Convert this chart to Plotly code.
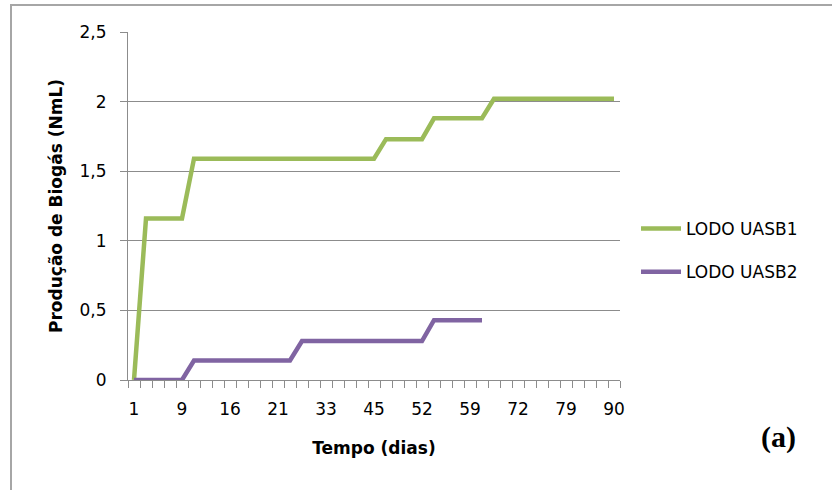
import plotly.graph_objects as go

# Tick labels shown on the category axis (every 4th category of 41)
day_labels = ["1", "9", "16", "21", "33", "45", "52", "59", "72", "79", "90"]
n_categories = 41

uasb1 = [0, 1.16, 1.16, 1.16, 1.16,
         1.59, 1.59, 1.59, 1.59, 1.59, 1.59, 1.59, 1.59, 1.59, 1.59, 1.59, 1.59, 1.59, 1.59, 1.59, 1.59,
         1.73, 1.73, 1.73, 1.73,
         1.88, 1.88, 1.88, 1.88, 1.88,
         2.02, 2.02, 2.02, 2.02, 2.02, 2.02, 2.02, 2.02, 2.02, 2.02, 2.02]
uasb2 = [0, 0, 0, 0, 0,
         0.14, 0.14, 0.14, 0.14, 0.14, 0.14, 0.14, 0.14, 0.14,
         0.28, 0.28, 0.28, 0.28, 0.28, 0.28, 0.28, 0.28, 0.28, 0.28, 0.28,
         0.43, 0.43, 0.43, 0.43, 0.43]

GREEN = "#9BBB59"
PURPLE = "#8064A2"
GRID = "#8c8c8c"
FONT = "DejaVu Sans"

fig = go.Figure()
fig.add_trace(go.Scatter(x=list(range(len(uasb1))), y=uasb1, mode="lines",
                         name="LODO UASB1", legendgroup="a",
                         line=dict(color=GREEN, width=4.5)))
fig.add_trace(go.Scatter(x=list(range(len(uasb2))), y=uasb2, mode="lines",
                         name="LODO UASB2", legendgroup="b",
                         line=dict(color=PURPLE, width=4.5)))

L, R, T, B = 128, 620, 32, 380
W, H = 832, 490
pw, ph = R - L, B - T

def px(xp):
    return (xp - L) / pw

def py(yp):
    return (B - yp) / ph

fig.update_layout(
    width=W, height=H,
    margin=dict(l=L, r=W - R, t=T, b=H - B, pad=0),
    paper_bgcolor="white", plot_bgcolor="white",
    separators=",.",
    font=dict(family=FONT, size=17, color="#000000"),
    showlegend=True,
    legend=dict(x=px(636), y=py(211), xanchor="left", yanchor="top",
                font=dict(family=FONT, size=17, color="#000000"),
                tracegroupgap=18, traceorder="grouped",
                bgcolor="rgba(0,0,0,0)", itemwidth=40),
    xaxis=dict(
        range=[-0.5, n_categories - 0.5],
        tickmode="array",
        tickvals=list(range(0, n_categories, 4)),
        ticktext=day_labels,
        ticks="", showgrid=False, zeroline=False,
        showline=True, linecolor=GRID, linewidth=1,
        tickfont=dict(family=FONT, size=17),
        ticklabelstandoff=14,
        minor=dict(tickmode="array",
                   tickvals=[i - 0.5 for i in range(n_categories + 1)],
                   ticks="outside", ticklen=7, tickcolor=GRID, tickwidth=1,
                   showgrid=False),
        title=dict(text="<b>Tempo (dias)</b>", font=dict(family=FONT, size=17), standoff=23),
    ),
    yaxis=dict(
        range=[0, 2.5], dtick=0.5, tick0=0,
        showgrid=True, gridcolor=GRID, gridwidth=1,
        zeroline=False,
        showline=True, linecolor=GRID, linewidth=1,
        ticks="outside", ticklen=7, tickcolor=GRID,
        tickfont=dict(family=FONT, size=17),
        ticklabelstandoff=10,
        title=dict(text="<b>Produção de Biogás (NmL)</b>", font=dict(family=FONT, size=17), standoff=12),
    ),
)

# chart-area border (gray frame)
fig.add_shape(type="rect", xref="paper", yref="paper",
              x0=px(11), x1=px(900), y0=py(560), y1=py(5),
              line=dict(color="#a6a6a6", width=2), fillcolor="rgba(0,0,0,0)", layer="below")

fig.add_annotation(text="<b>(a)</b>", xref="paper", yref="paper",
                   x=px(778), y=py(437), xanchor="center", yanchor="middle",
                   showarrow=False,
                   font=dict(family="Liberation Serif", size=30, color="#000000"))

fig.write_html("out.html")
